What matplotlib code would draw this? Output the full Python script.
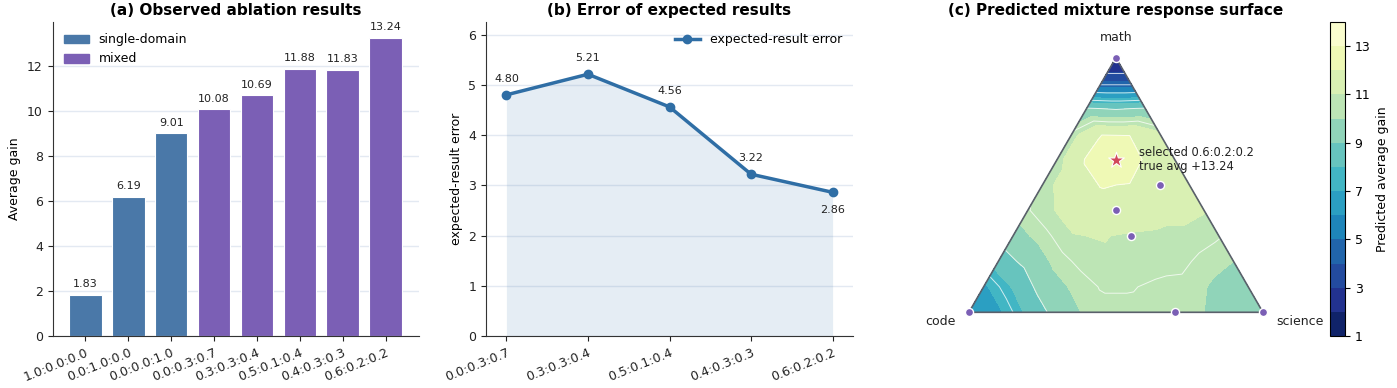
import numpy as np
import matplotlib.pyplot as plt
import matplotlib.tri as mtri
from matplotlib.patches import Patch

# (a) observed ablation results, ratios are math:code:science
mixtures = ["1.0:0.0:0.0", "0.0:1.0:0.0", "0.0:0.0:1.0", "0.0:0.3:0.7",
            "0.3:0.3:0.4", "0.5:0.1:0.4", "0.4:0.3:0.3", "0.6:0.2:0.2"]
observed_gain = [1.83, 6.19, 9.01, 10.08, 10.69, 11.88, 11.83, 13.24]
is_mixed = [False, False, False, True, True, True, True, True]

# (b) error of expected results
error_mixtures = ["0.0:0.3:0.7", "0.3:0.3:0.4", "0.5:0.1:0.4", "0.4:0.3:0.3", "0.6:0.2:0.2"]
expected_error = [4.80, 5.21, 4.56, 3.22, 2.86]

# (c) predicted surface on a 0.1 ternary grid, rows from math=1.0 down to math=0.0,
# each row runs from science=0 (code side) to science=1-math
surface_rows = [
    [1.3],
    [4.2, 4.2],
    [9.1, 8.9, 9.1],
    [10.7, 11.97, 11.95, 11.2],
    [10.7, 12.1, 12.8, 11.9, 11.4],
    [10.7, 11.5, 12.05, 11.95, 11.7, 11.4],
    [10.45, 11.05, 11.5, 11.7, 11.6, 11.3, 11.05],
    [9.6, 10.3, 10.95, 11.05, 10.9, 10.8, 10.8, 10.55],
    [8.5, 9.3, 10.25, 10.75, 10.85, 10.85, 10.7, 10.35, 10.0],
    [6.8, 8.1, 9.4, 10.1, 10.55, 10.55, 10.35, 10.3, 9.8, 9.5],
    [6.2, 6.8, 8.2, 9.4, 10.15, 10.35, 10.3, 10.25, 10.0, 9.6, 9.3],
]
selected = "0.6:0.2:0.2"

blue = "#4a78a8"
purple = "#7b5fb5"
line_col = "#2f6ea5"
grid_col = "#e3e9f2"

fig = plt.figure(figsize=(13.97, 3.88), dpi=100)


def style(ax):
    ax.spines["top"].set_visible(False)
    ax.spines["right"].set_visible(False)
    for s in ("left", "bottom"):
        ax.spines[s].set_color("#333333")
    ax.yaxis.grid(True, color=grid_col, linewidth=1)
    ax.set_axisbelow(True)
    ax.tick_params(labelsize=9, colors="#222222")


# ---- panel a
ax1 = fig.add_axes([52.5 / 1397, 52 / 388, 366 / 1397, 314 / 388])
xa = np.arange(len(mixtures))
cols = [purple if m else blue for m in is_mixed]
ax1.bar(xa, observed_gain, width=0.76, color=cols, edgecolor="white", linewidth=0.8)
for xi, v in zip(xa, observed_gain):
    ax1.annotate(f"{v:.2f}", (xi, v), xytext=(0, 4), textcoords="offset points",
                 ha="center", va="bottom", fontsize=8, color="#222222")
ax1.set_xticks(xa)
ax1.set_xticklabels(mixtures, rotation=22, ha="right", rotation_mode="anchor")
ax1.set_ylim(0, 13.95)
ax1.set_ylabel("Average gain", fontsize=9)
ax1.set_title("(a) Observed ablation results", fontsize=11, fontweight="bold", pad=5)
style(ax1)
ax1.legend(handles=[Patch(color=blue, label="single-domain"), Patch(color=purple, label="mixed")],
           loc="upper left", frameon=False, fontsize=9)

# ---- panel b
ax2 = fig.add_axes([486 / 1397, 52 / 388, 367 / 1397, 314 / 388])
xb = np.arange(len(error_mixtures))
ax2.fill_between(xb, 0, expected_error, color=line_col, alpha=0.12, linewidth=0)
ax2.plot(xb, expected_error, color=line_col, linewidth=2.5, marker="o", markersize=6,
         label="expected-result error")
for i, v in enumerate(expected_error):
    below = i == len(expected_error) - 1
    ax2.annotate(f"{v:.2f}", (i, v), xytext=(0, -9 if below else 8), textcoords="offset points",
                 ha="center", va="top" if below else "bottom", fontsize=8, color="#222222")
ax2.set_xticks(xb)
ax2.set_xticklabels(error_mixtures, rotation=22, ha="right", rotation_mode="anchor")
ax2.set_xlim(-0.25, 4.25)
ax2.set_ylim(0, 6.25)
ax2.set_ylabel("expected-result error", fontsize=9)
ax2.set_title("(b) Error of expected results", fontsize=11, fontweight="bold", pad=5)
style(ax2)
ax2.legend(loc="upper right", frameon=False, fontsize=9)

# ---- panel c
h = np.sqrt(3) / 2


def to_xy(ratio):
    m, c, s = [float(t) for t in ratio.split(":")]
    return s + 0.5 * m, m * h


gx, gy, gz = [], [], []
for i, row in enumerate(surface_rows):
    m = (10 - i) / 10
    for j, v in enumerate(row):
        s = j / 10
        gx.append(s + 0.5 * m)
        gy.append(m * h)
        gz.append(v)
tri = mtri.Triangulation(gx, gy)

ax3 = fig.add_axes([916 / 1397, 52 / 388, 400 / 1397, 314 / 388])
y0 = (75.7 - 52) / 294
ax3.set_xlim(-0.18, -0.18 + 400 / 294)
ax3.set_ylim(-y0, -y0 + 314 / 294)
ax3.axis("off")
cf = ax3.tricontourf(tri, gz, levels=np.arange(1, 15), cmap="YlGnBu_r")
ax3.tricontour(tri, gz, levels=np.arange(3, 13, 1.5), colors="white", linewidths=0.7, alpha=0.75)
ax3.plot([0, 1, 0.5, 0], [0, 0, h, 0], color="#5a606b", linewidth=1.2)

pts = [to_xy(r) for r in mixtures if r != selected]
ax3.scatter([p[0] for p in pts], [p[1] for p in pts], s=34, color=purple,
            edgecolor="white", linewidth=1, zorder=5, clip_on=False)
sx, sy = to_xy(selected)
ax3.scatter([sx], [sy], marker="*", s=140, color="#d1495b", edgecolor="white", linewidth=0.8, zorder=6)
ax3.text(sx + 0.078, sy, f"selected {selected}\ntrue avg +{observed_gain[-1]:.2f}",
         fontsize=8.3, va="center", ha="left", color="#222222", linespacing=1.1)
ax3.text(0.5, h + 0.045, "math", ha="center", va="bottom", fontsize=9, color="#222222")
ax3.text(-0.045, -0.03, "code", ha="right", va="center", fontsize=9, color="#222222")
ax3.text(1.045, -0.03, "science", ha="left", va="center", fontsize=9, color="#222222")
ax3.set_title("(c) Predicted mixture response surface", fontsize=11, fontweight="bold", pad=5)

cax = fig.add_axes([1330 / 1397, 52 / 388, 15 / 1397, 314 / 388])
cb = fig.colorbar(cf, cax=cax, ticks=np.arange(1, 14, 2))
cb.set_label("Predicted average gain", fontsize=9)
cb.ax.tick_params(labelsize=9)

fig.savefig("out.png", dpi=100)
